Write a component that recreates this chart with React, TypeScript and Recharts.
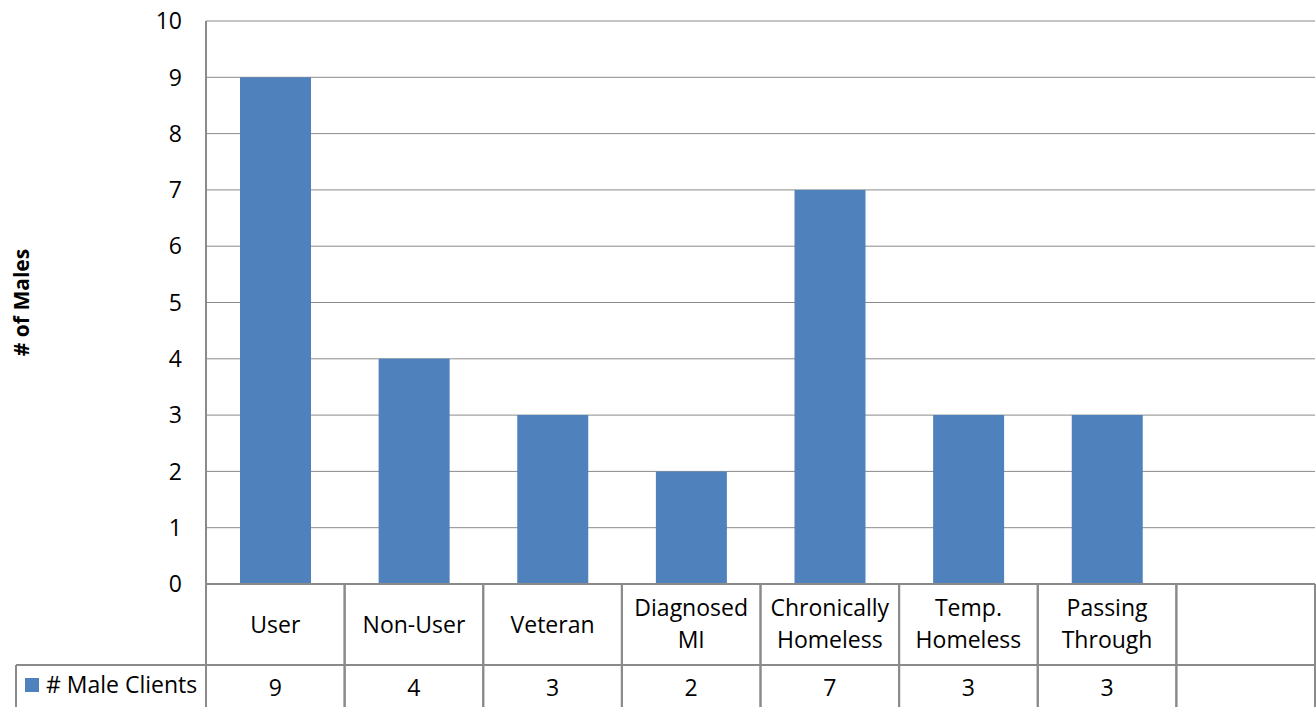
import React from 'react';
import { BarChart, Bar, XAxis, YAxis, CartesianGrid } from 'recharts';

const categories = ['User', 'Non-User', 'Veteran', 'Diagnosed\nMI', 'Chronically\nHomeless', 'Temp.\nHomeless', 'Passing\nThrough', ''];
const maleClients = [9, 4, 3, 2, 7, 3, 3, null];
const yTicks = [0, 1, 2, 3, 4, 5, 6, 7, 8, 9, 10];
const seriesName = '# Male Clients';
const yTitle = '# of Males';

const data = categories.map((c, i) => ({ name: c, value: maleClients[i] }));

const W = 1316;
const H = 707;
const TOP = 21;
const LEFT = 206;
const RIGHT = 1;
const XH = 123;
const PLOT_BOTTOM = H - XH;
const BAND = (W - LEFT - RIGHT) / categories.length;
const FONT = '"Open Sans", "Noto Sans", sans-serif';
const LINE = '#8a8a8a';
const BLUE = '#4F81BD';
const ROW1_BOTTOM = 665;

const YTick = (props: any) => {
  const { y, payload } = props;
  return (
    <text x={LEFT - 24} y={y} dy="0.36em" textAnchor="end" fontFamily={FONT} fontSize={23} fill="#000">
      {payload.value}
    </text>
  );
};

const TableTick = (props: any) => {
  const { x, payload, index } = props;
  const left = x - BAND / 2;
  const right = x + BAND / 2;
  const lines = String(payload.value).split('\n').filter((s) => s.length > 0);
  const v = maleClients[index];
  return (
    <g>
      {lines.length === 1 && (
        <text x={x} y={633} textAnchor="middle" fontFamily={FONT} fontSize={23} fill="#000">
          {lines[0]}
        </text>
      )}
      {lines.length === 2 && (
        <g>
          <text x={x} y={616} textAnchor="middle" fontFamily={FONT} fontSize={23} fill="#000">
            {lines[0]}
          </text>
          <text x={x} y={648} textAnchor="middle" fontFamily={FONT} fontSize={23} fill="#000">
            {lines[1]}
          </text>
        </g>
      )}
      {v !== null && v !== undefined && (
        <text x={x} y={696} textAnchor="middle" fontFamily={FONT} fontSize={23} fill="#000">
          {v}
        </text>
      )}
      <line x1={left} y1={PLOT_BOTTOM} x2={left} y2={H + 5} stroke={LINE} strokeWidth={2} />
      <line x1={right} y1={PLOT_BOTTOM} x2={right} y2={H + 5} stroke={LINE} strokeWidth={2} />
      <line x1={left} y1={ROW1_BOTTOM} x2={right} y2={ROW1_BOTTOM} stroke={LINE} strokeWidth={2} />
      {index === 0 && (
        <g>
          <line x1={16} y1={ROW1_BOTTOM} x2={left} y2={ROW1_BOTTOM} stroke={LINE} strokeWidth={2} />
          <line x1={16} y1={ROW1_BOTTOM} x2={16} y2={H + 5} stroke={LINE} strokeWidth={2} />
          <rect x={25} y={678} width={14} height={14} fill={BLUE} />
          <text x={46} y={693} fontFamily={FONT} fontSize={23} fill="#000">
            {seriesName}
          </text>
        </g>
      )}
    </g>
  );
};

const YTitle = () => (
  <text
    x={21}
    y={TOP + (PLOT_BOTTOM - TOP) / 2}
    transform={`rotate(-90, 21, ${TOP + (PLOT_BOTTOM - TOP) / 2})`}
    textAnchor="middle"
    dominantBaseline="central"
    fontFamily={FONT}
    fontSize={21}
    fontWeight="bold"
    fill="#000"
  >
    {yTitle}
  </text>
);

export default function App() {
  return (
    <div style={{ position: 'absolute', left: 0, top: 0, width: W, height: H, background: '#fff' }}>
      <BarChart width={W} height={H} data={data} margin={{ top: TOP, right: RIGHT, left: 0, bottom: 0 }}>
        <CartesianGrid vertical={false} stroke={LINE} strokeWidth={1} />
        <YAxis
          type="number"
          domain={[0, 10]}
          ticks={yTicks}
          interval={0}
          width={LEFT}
          axisLine={{ stroke: LINE, strokeWidth: 2 }}
          tickLine={false}
          tick={<YTick />}
          label={{ content: <YTitle /> }}
        />
        <XAxis
          dataKey="name"
          height={XH}
          interval={0}
          axisLine={{ stroke: LINE, strokeWidth: 2 }}
          tickLine={false}
          tick={<TableTick />}
        />
        <Bar dataKey="value" fill={BLUE} barSize={71} isAnimationActive={false} />
      </BarChart>
    </div>
  );
}
